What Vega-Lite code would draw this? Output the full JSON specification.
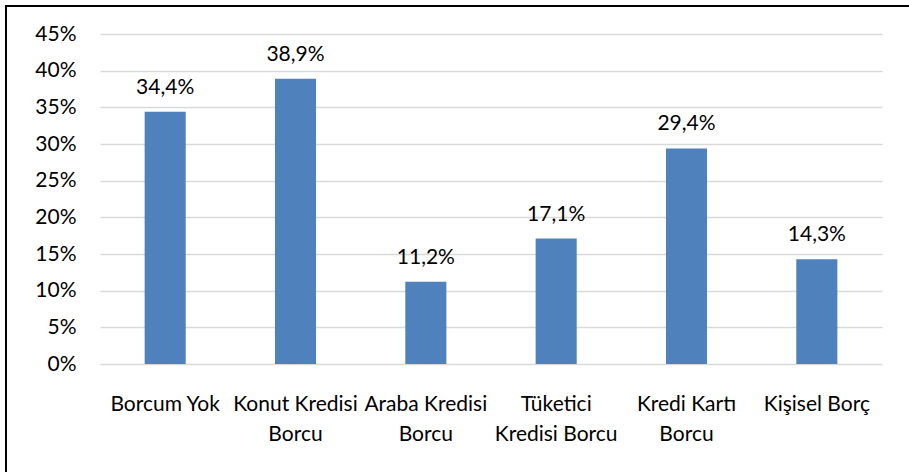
{
  "$schema": "https://vega.github.io/schema/vega-lite/v6.json",
  "autosize": "none",
  "padding": {"left": 6, "top": 6, "right": 0, "bottom": 0},
  "width": 930,
  "height": 490,
  "background": "white",
  "config": {
    "locale": {"number": {"decimal": ",", "thousands": ".", "grouping": [3], "currency": ["", " TL"]}},
    "view": {"stroke": "black", "strokeWidth": 2},
    "font": "Lato"
  },
  "data": {
    "values": [
      {"kategori": "Borcum Yok", "oran": 0.344},
      {"kategori": "Konut Kredisi|Borcu", "oran": 0.389},
      {"kategori": "Araba Kredisi|Borcu", "oran": 0.112},
      {"kategori": "Tüketici|Kredisi Borcu", "oran": 0.171},
      {"kategori": "Kredi Kartı|Borcu", "oran": 0.294},
      {"kategori": "Kişisel Borç", "oran": 0.143}
    ]
  },
  "encoding": {
    "x": {
      "field": "kategori",
      "type": "nominal",
      "sort": null,
      "scale": {"range": [94, 876], "paddingInner": 0.685, "paddingOuter": 0.3425},
      "axis": {
        "title": null,
        "orient": "bottom",
        "offset": -132,
        "domain": false,
        "ticks": false,
        "tickSize": 0,
        "labelAngle": 0,
        "labelExpr": "split(datum.value, '|')",
        "labelOverlap": false,
        "labelBound": false,
        "labelFlush": false,
        "labelBaseline": "alphabetic",
        "labelPadding": 46,
        "labelLineHeight": 30,
        "labelFontSize": 21,
        "labelColor": "black",
        "labelFont": "Lato"
      }
    },
    "y": {
      "field": "oran",
      "type": "quantitative",
      "scale": {"domain": [0, 0.45], "range": [358, 28], "nice": false},
      "axis": {
        "title": null,
        "orient": "left",
        "offset": -94,
        "values": [0, 0.05, 0.1, 0.15, 0.2, 0.25, 0.3, 0.35, 0.4, 0.45],
        "format": ".0%",
        "domain": false,
        "ticks": false,
        "tickSize": 0,
        "labelPadding": 24,
        "labelFontSize": 21,
        "labelColor": "black",
        "labelFont": "Lato",
        "grid": true,
        "gridColor": "#d9d9d9",
        "gridWidth": 1.5
      }
    }
  },
  "layer": [
    {"mark": {"type": "bar", "color": "#4F81BD"}},
    {
      "mark": {"type": "text", "baseline": "alphabetic", "dy": -18, "fontSize": 21, "font": "Lato", "color": "black"},
      "encoding": {"text": {"field": "oran", "type": "quantitative", "format": ".1%"}}
    }
  ]
}
